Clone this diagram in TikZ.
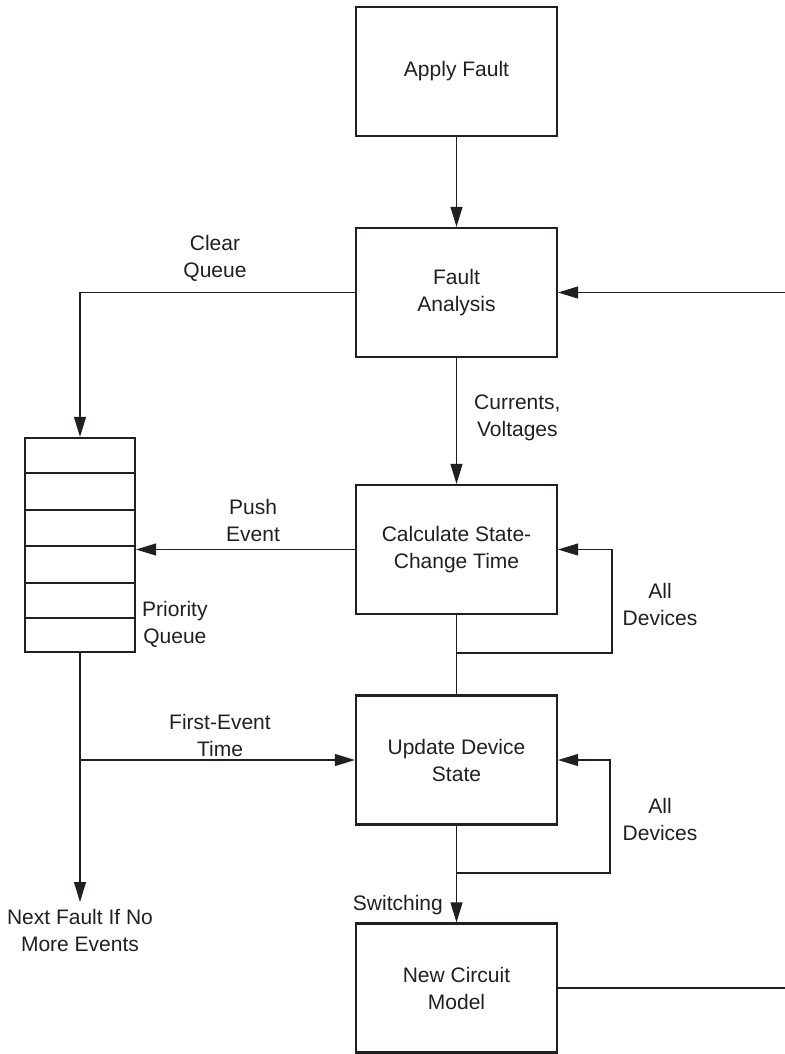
\documentclass[tikz,border=0pt]{standalone}
\usepackage{fontspec}
\setmainfont{Liberation Sans}
\usetikzlibrary{arrows.meta}
\definecolor{ink}{RGB}{35,31,32}
\begin{document}
\begin{tikzpicture}[x=1pt,y=-1pt,
  every node/.style={text=ink,font=\fontsize{21}{27}\selectfont},
  procbox/.style={draw=ink,line width=2.2pt,minimum width=201pt,minimum height=129pt,inner sep=0pt,align=center},
  lbl/.style={align=center,inner sep=0pt},
  conn/.style={draw=ink,line width=1.1pt},
  arr/.style={conn,-{Triangle[length=20pt,width=12pt]}}]
\useasboundingbox (0,0) rectangle (784,1054);
\node[procbox] (af) at (456.5,71.5) {Apply Fault};
\node[procbox] (fa) at (456.5,292.5) {Fault\\Analysis};
\node[procbox] (cs) at (456.5,549.5) {Calculate State-\\Change Time};
\node[procbox] (ud) at (456.5,760) {Update Device\\State};
\node[procbox] (nc) at (456.5,988) {New Circuit\\Model};
% priority queue
\node[draw=ink,line width=2.2pt,minimum width=110pt,minimum height=214pt,inner sep=0pt] (q) at (80,545) {};
\foreach \yy in {473,510,546,583,618}
  \draw[ink,line width=1.8pt] (25,\yy) -- (135,\yy);
% coordinates
\coordinate (cq) at (80,292.5);
\coordinate (j1) at (456.5,653);
\coordinate (r1a) at (612,653);
\coordinate (r1b) at (612,549.5);
\coordinate (j2) at (456.5,873);
\coordinate (r2a) at (610,873);
\coordinate (r2b) at (610,760);
\coordinate (jq) at (80,760);
\coordinate (nf) at (80,902);
\coordinate (ra) at (786,988);
\coordinate (rb) at (786,292.5);
% connectors
\draw[arr] (af.south) -- (fa.north);
\draw[arr] (fa.west) -- (cq) -- (q.north);
\draw[arr] (fa.south) -- (cs.north);
\draw[arr] (cs.west) -- (cs.west -| q.east);
\draw[conn] (cs.south) -- (ud.north);
\draw[arr] (j1) -- (r1a) -- (r1b) -- (cs.east);
\draw[conn] (q.south) -- (jq);
\draw[arr] (jq) -- (nf);
\draw[arr] (jq) -- (ud.west);
\draw[arr] (ud.south) -- (nc.north);
\draw[arr] (j2) -- (r2a) -- (r2b) -- (ud.east);
\draw[arr] (nc.east) -- (ra) -- (rb) -- (fa.east);
% labels
\node[lbl] (lcq) at (215,258) {Clear\\Queue};
\node[lbl,anchor=west] (lcv) at (474,418) {Currents,\\Voltages};
\node[lbl] (lpe) at (253,520) {Push\\Event};
\node[lbl] (lad1) at (660,604) {All\\Devices};
\node[lbl,anchor=west] (lpq) at (142,624) {Priority\\Queue};
\node[lbl] (lfe) at (220,735) {First-Event\\Time};
\node[lbl] (lad2) at (660,819) {All\\Devices};
\node[lbl,anchor=east] (lsw) at (443,905) {Switching};
\node[lbl] (lnf) at (80,930) {Next Fault If No\\More Events};
\end{tikzpicture}
\end{document}
